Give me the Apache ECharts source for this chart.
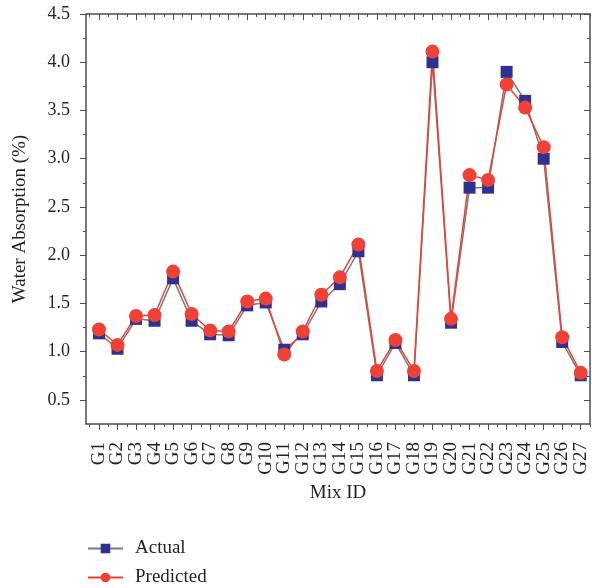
<!DOCTYPE html>
<html>
<head>
<meta charset="utf-8">
<script src="https://cdn.jsdelivr.net/npm/echarts@6/dist/echarts.min.js"></script>
<style>
	html, body { margin: 0; padding: 0; background: #fff; }
	#chart { width: 592px; height: 588px; }
</style>
</head>
<body>
<div id="chart"></div>
<script>
	// 配合比编号
	const categories = [
		"G1", "G2", "G3", "G4", "G5", "G6", "G7", "G8", "G9", "G10",
		"G11", "G12", "G13", "G14", "G15", "G16", "G17", "G18", "G19", "G20",
		"G21", "G22", "G23", "G24", "G25", "G26", "G27"
	];
	const actual = [
		1.19, 1.03, 1.34, 1.32, 1.76, 1.32, 1.18, 1.17, 1.48, 1.51,
		1.02, 1.18, 1.52, 1.70, 2.04, 0.755, 1.09, 0.755, 4.00, 1.30,
		2.70, 2.70, 3.90, 3.60, 3.00, 1.10, 0.755
	];
	const predicted = [
		1.23, 1.07, 1.37, 1.38, 1.83, 1.39, 1.22, 1.21, 1.52, 1.55,
		0.97, 1.21, 1.59, 1.77, 2.11, 0.80, 1.12, 0.80, 4.11, 1.34,
		2.83, 2.78, 3.77, 3.53, 3.12, 1.15, 0.78
	];
	const yTicks = [0.5, 1.0, 1.5, 2.0, 2.5, 3.0, 3.5, 4.0, 4.5];

	const font = "Liberation Serif";
	const textColor = "#231f20";
	const lineColor = "#4d4d4d";

	const catPos = categories.map((c, i) => i + 1);
	const catOdd = catPos.filter(v => v % 2 === 1);
	const catEven = catPos.filter(v => v % 2 === 0);
	const catMinor = [0].concat(catPos).map(v => v + 0.5);
	const yMinor = yTicks.slice(0, -1).map(v => v + 0.25);

	const xBase = {
		type: "value",
		min: 0.3,
		max: 27.5,
		splitLine: { show: false }
	};
	const yBase = {
		type: "value",
		min: 0.25,
		max: 4.5,
		splitLine: { show: false }
	};

	// 标签分奇偶两组放在两根轴上，避免被自动隐藏
	const xLabel = values => ({
		customValues: values,
		showMinLabel: true,
		showMaxLabel: true,
		hideOverlap: false,
		rotate: 90,
		margin: 18,
		fontFamily: font,
		fontSize: 19,
		color: textColor,
		formatter: v => categories[Math.round(v) - 1]
	});

	// 图例分两行
	const legendBase = {
		left: 82,
		itemWidth: 35,
		itemHeight: 12,
		textStyle: { fontFamily: font, fontSize: 19, color: textColor, padding: [0, 0, 0, 7] }
	};

	const option = {
		animation: false,
		textStyle: { fontFamily: font },
		grid: { left: 86, right: 2, top: 14, bottom: 164 },
		legend: [
			{ ...legendBase, top: 534, data: ["Actual"] },
			{ ...legendBase, top: 563, data: ["Predicted"] }
		],
		xAxis: [
			{
				...xBase,
				position: "bottom",
				name: "Mix ID",
				nameLocation: "middle",
				nameGap: 60,
				nameTextStyle: { fontFamily: font, fontSize: 19, color: textColor },
				axisLine: { lineStyle: { color: lineColor, width: 1.5 } },
				axisTick: { customValues: catPos, length: 6, lineStyle: { color: lineColor } },
				axisLabel: xLabel(catOdd)
			},
			{
				...xBase,
				position: "top",
				axisLine: { lineStyle: { color: lineColor, width: 1.5 } },
				axisTick: { inside: true, customValues: catPos, length: 6, lineStyle: { color: lineColor } },
				axisLabel: { show: false }
			},
			{
				...xBase,
				position: "bottom",
				axisLine: { show: false },
				axisTick: { customValues: catMinor, length: 3, lineStyle: { color: lineColor } },
				axisLabel: xLabel(catEven)
			},
			{
				...xBase,
				position: "top",
				axisLine: { show: false },
				axisTick: { inside: true, customValues: catMinor, length: 3, lineStyle: { color: lineColor } },
				axisLabel: { show: false }
			}
		],
		yAxis: [
			{
				...yBase,
				position: "left",
				name: "Water Absorption (%)",
				nameLocation: "middle",
				nameGap: 56,
				nameTextStyle: { fontFamily: font, fontSize: 19, color: textColor },
				axisLine: { show: true, lineStyle: { color: lineColor, width: 1.5 } },
				axisTick: { show: true, customValues: yTicks, length: 6, lineStyle: { color: lineColor } },
				axisLabel: {
					customValues: yTicks,
					showMinLabel: true,
					showMaxLabel: true,
					margin: 16,
					fontFamily: font,
					fontSize: 18,
					color: textColor,
					formatter: v => v.toFixed(1)
				}
			},
			{
				...yBase,
				position: "right",
				axisLine: { show: true, lineStyle: { color: lineColor, width: 1.5 } },
				axisTick: { show: true, inside: true, customValues: yTicks, length: 6, lineStyle: { color: lineColor } },
				axisLabel: { show: false }
			},
			{
				...yBase,
				position: "left",
				axisLine: { show: false },
				axisTick: { show: true, customValues: yMinor, length: 3, lineStyle: { color: lineColor } },
				axisLabel: { show: false }
			},
			{
				...yBase,
				position: "right",
				axisLine: { show: false },
				axisTick: { show: true, inside: true, customValues: yMinor, length: 3, lineStyle: { color: lineColor } },
				axisLabel: { show: false }
			}
		],
		series: [
			{
				name: "Actual",
				type: "line",
				xAxisIndex: 0,
				yAxisIndex: 0,
				data: actual.map((v, i) => [i + 1, v]),
				symbol: "rect",
				symbolSize: 12,
				itemStyle: { color: "#2e3192" },
				lineStyle: { color: "#7a7a7a", width: 1.5 }
			},
			{
				name: "Predicted",
				type: "line",
				xAxisIndex: 0,
				yAxisIndex: 0,
				data: predicted.map((v, i) => [i + 1, v]),
				symbol: "circle",
				symbolSize: 14,
				itemStyle: { color: "#ef4136" },
				lineStyle: { color: "#ef4136", width: 1.5 }
			}
		]
	};

	const chart = echarts.init(document.getElementById("chart"));
	chart.setOption(option);
</script>
</body>
</html>
